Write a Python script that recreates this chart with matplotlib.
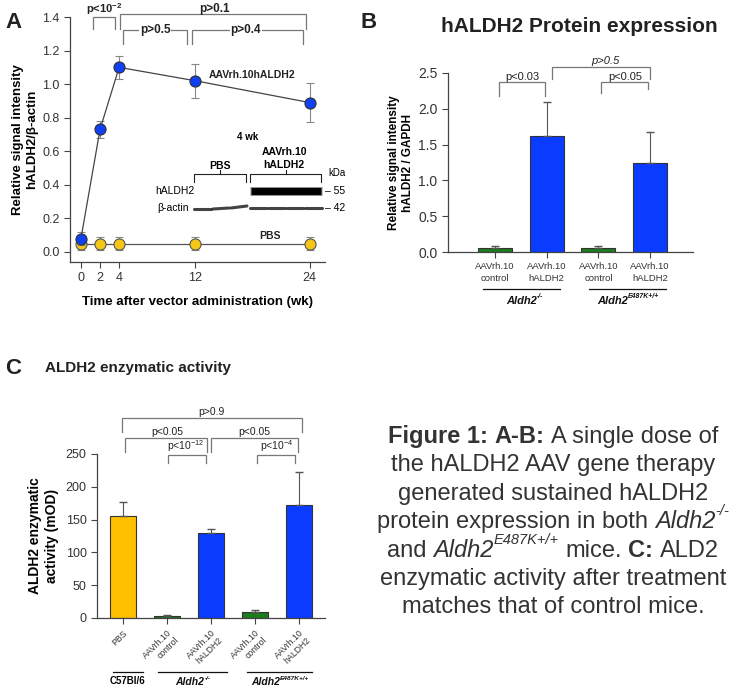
import matplotlib
matplotlib.use("Agg")
import matplotlib.pyplot as plt
import matplotlib.transforms as mtransforms

plt.rcParams['font.family'] = ['Liberation Sans', 'DejaVu Sans']
plt.rcParams['mathtext.fontset'] = 'custom'
plt.rcParams['mathtext.rm'] = 'Liberation Sans'
plt.rcParams['mathtext.bf'] = 'Liberation Sans:bold'

# ---- data ----
# panel A: time course
weeks = [0, 2, 4, 12, 24]
aav_mean = [0.08, 0.73, 1.10, 1.02, 0.89]
aav_err = [0.04, 0.05, 0.07, 0.10, 0.115]
pbs_mean = [0.05, 0.05, 0.05, 0.05, 0.05]
pbs_err = [0.04, 0.04, 0.04, 0.04, 0.04]

# panel B: protein expression
b_labels = ['AAVrh.10\ncontrol', 'AAVrh.10\nhALDH2', 'AAVrh.10\ncontrol', 'AAVrh.10\nhALDH2']
b_values = [0.05, 1.62, 0.05, 1.24]
b_err = [0.03, 0.48, 0.03, 0.43]

# panel C: enzymatic activity
c_labels = ['PBS', 'AAVrh.10\ncontrol', 'AAVrh.10\nhALDH2', 'AAVrh.10\ncontrol', 'AAVrh.10\nhALDH2']
c_values = [155, 3, 129, 9, 172]
c_err = [22, 2, 7, 3, 50]

BLUE = '#0a3cff'
GREEN = '#1c7d1c'
YELLOW = '#ffc000'
TICK = '#333333'

W, H = 751, 697
fig = plt.figure(figsize=(W / 100, H / 100), dpi=100)
renderer = fig.canvas.get_renderer()


def px_axes(x0, y0, x1, y1):
    return fig.add_axes([x0 / W, 1 - y1 / H, (x1 - x0) / W, (y1 - y0) / H])


def style_axes(ax, size):
    for s in ['top', 'right']:
        ax.spines[s].set_visible(False)
    for s in ['left', 'bottom']:
        ax.spines[s].set_color('#444444')
        ax.spines[s].set_linewidth(0.9)
    ax.tick_params(direction='out', length=4, width=0.8, color='#444444',
                   labelsize=size, labelcolor=TICK)


def bracket(ax, x0, x1, top, left_bot, right_bot, color='#777777', lw=0.9):
    ax.plot([x0, x0, x1, x1], [left_bot, top, top, right_bot], color=color,
            lw=lw, clip_on=False, solid_joinstyle='miter')


def text_width(s, size, **kw):
    t = fig.text(0, 0, s, fontsize=size, **kw)
    w = t.get_window_extent(renderer).width
    t.remove()
    return w


def rich_text(x, y, runs, trans, size, color='#222222', ha='center'):
    # runs: (text, weight, style, is_superscript, space_before)
    space = text_width('a a', size) - text_width('aa', size)
    widths = []
    for s, weight, style, sup, gap in runs:
        sz = size * 0.62 if sup else size
        widths.append(text_width(s, sz, fontweight=weight, fontstyle=style))
    total = sum(widths) + space * sum(1 for r in runs if r[4])
    off = -total / 2 if ha == 'center' else 0
    for (s, weight, style, sup, gap), w in zip(runs, widths):
        if gap:
            off += space
        sz = size * 0.62 if sup else size
        rise = size * 0.55 if sup else 0
        tr = mtransforms.offset_copy(trans, fig=fig, x=off, y=rise * 100 / 72, units='dots')
        fig.text(x, y, s, transform=tr, fontsize=sz, fontweight=weight, fontstyle=style,
                 ha='left', va='baseline', color=color)
        off += w


def aldh_label(ax, x, y, sup, size):
    tr = mtransforms.blended_transform_factory(ax.transData, ax.transAxes)
    rich_text(x, y, [('Aldh2', 'bold', 'italic', False, False),
                     (sup, 'bold', 'italic', True, False)], tr, size, color='#111111')


# ================= panel A =================
axA = px_axes(70, 17, 325, 262)
style_axes(axA, 9)
axA.errorbar(weeks, pbs_mean, yerr=pbs_err, color='#555555', lw=0.9, ecolor='#888888',
             elinewidth=0.8, capsize=3, marker='o', ms=8, mfc='#f5c518', mec='#555555',
             mew=0.8, zorder=3, clip_on=False)
axA.errorbar(weeks, aav_mean, yerr=aav_err, color='#444444', lw=0.9, ecolor='#888888',
             elinewidth=0.8, capsize=3, marker='o', ms=8, mfc='#1040f0', mec='#333333',
             mew=0.8, zorder=4, clip_on=False)
axA.set_xlim(-1.15, 25.6)
axA.set_ylim(-0.06, 1.4)
axA.set_xticks(weeks)
axA.set_yticks([0.0, 0.2, 0.4, 0.6, 0.8, 1.0, 1.2, 1.4])
axA.set_yticklabels(['0.0', '0.2', '0.4', '0.6', '0.8', '1.0', '1.2', '1.4'])
axA.set_xlabel('Time after vector administration (wk)', fontsize=9.5, fontweight='bold',
               labelpad=8)
axA.set_ylabel('Relative signal intensity\nhALDH2/β-actin', fontsize=9.5,
               fontweight='bold', labelpad=3)

bracket(axA, 1.3, 3.55, 1.40, 1.33, 1.33)
axA.text(2.4, 1.425, 'p<10$^{\\mathbf{-2}}$', ha='center', va='baseline', fontsize=8,
         fontweight='bold', color='#222222')
bracket(axA, 4.1, 23.6, 1.415, 1.33, 1.33)
axA.text(14.0, 1.428, 'p>0.1', ha='center', va='baseline', fontsize=8.5,
         fontweight='bold', color='#222222')
bracket(axA, 4.4, 11.1, 1.32, 1.24, 1.24)
axA.text(7.8, 1.32, 'p>0.5', ha='center', va='center', fontsize=8.5, fontweight='bold',
         color='#222222', bbox=dict(fc='white', ec='none', pad=0.5))
bracket(axA, 11.7, 23.3, 1.32, 1.24, 1.24)
axA.text(17.3, 1.32, 'p>0.4', ha='center', va='center', fontsize=8.5, fontweight='bold',
         color='#222222', bbox=dict(fc='white', ec='none', pad=0.5))
axA.text(13.4, 1.055, 'AAVrh.10hALDH2', ha='left', va='center', fontsize=7.5,
         fontweight='bold', color='#222222')
axA.text(19.8, 0.095, 'PBS', ha='center', va='center', fontsize=7.5,
         fontweight='bold', color='#222222')

# overlay axes in pixel coordinates for blot inset, panel letters and caption
ov = fig.add_axes([0, 0, 1, 1], zorder=10)
ov.set_xlim(0, W)
ov.set_ylim(H, 0)
ov.axis('off')
ov.patch.set_alpha(0)

# western blot inset (4 wk)
ov.text(248, 137, '4 wk', ha='center', va='center', fontsize=7, fontweight='bold')
ov.text(284, 152, 'AAVrh.10', ha='center', va='center', fontsize=7.5, fontweight='bold')
ov.text(284, 165, 'hALDH2', ha='center', va='center', fontsize=7.5, fontweight='bold')
ov.text(220, 166, 'PBS', ha='center', va='center', fontsize=7.5, fontweight='bold')
for x0, x1 in [(194, 246), (250, 321)]:
    ov.plot([x0, x0, x1, x1], [182, 174, 174, 182], color='#222222', lw=0.8)
    xm = (x0 + x1) / 2
    ov.plot([xm, xm], [174, 170], color='#222222', lw=0.8)
ov.text(337, 173, 'kDa', ha='center', va='center', fontsize=7)
ov.text(155, 191, 'hALDH2', ha='left', va='center', fontsize=7.5)
ov.text(157, 208, 'β-actin', ha='left', va='center', fontsize=7.5)
ov.plot([250, 322], [191, 191], color='#111111', lw=6.5, alpha=0.45, solid_capstyle='butt')
ov.plot([251, 321], [191, 191], color='#000000', lw=5, solid_capstyle='butt')
pbs_lanes = [(194, 211, 209, 209), (213, 229, 209, 208), (231, 247, 208, 206)]
aav_lanes = [(250, 267, 208, 208), (269, 285, 208, 208), (287, 303, 208, 208), (305, 322, 208, 208)]
for x0, x1, y0, y1 in pbs_lanes + aav_lanes:
    ov.plot([x0, x1], [y0, y1], color='#222222', lw=2.2, alpha=0.85, solid_capstyle='round')
ov.text(325, 191, '– 55', ha='left', va='center', fontsize=7.5)
ov.text(325, 208, '– 42', ha='left', va='center', fontsize=7.5)

# panel letters and titles
ov.text(5, 22, 'A', ha='left', va='center', fontsize=16, fontweight='bold', color='#222222')
ov.text(360, 23, 'B', ha='left', va='center', fontsize=16, fontweight='bold', color='#222222')
ov.text(5, 368, 'C', ha='left', va='center', fontsize=16, fontweight='bold', color='#222222')
ov.text(579, 26, 'hALDH2 Protein expression', ha='center', va='center', fontsize=15,
        fontweight='bold', color='#222222')
ov.text(45, 368, 'ALDH2 enzymatic activity', ha='left', va='center', fontsize=11,
        fontweight='bold', color='#222222')

# ================= panel B =================
axB = px_axes(448, 73, 693, 252)
style_axes(axB, 10)
xb = list(range(len(b_values)))
b_colors = [GREEN, BLUE, GREEN, BLUE]
axB.bar(xb, b_values, width=0.66, color=b_colors, edgecolor='#333333', linewidth=0.8,
        zorder=2)
axB.errorbar(xb, b_values, yerr=[[0] * len(b_err), b_err], fmt='none', ecolor='#555555',
             elinewidth=0.8, capsize=3, zorder=3)
axB.set_xlim(-0.91, 3.83)
axB.set_ylim(0, 2.5)
axB.set_yticks([0.0, 0.5, 1.0, 1.5, 2.0, 2.5])
axB.set_yticklabels(['0.0', '0.5', '1.0', '1.5', '2.0', '2.5'])
axB.set_xticks(xb)
axB.set_xticklabels(b_labels, fontsize=6.8, linespacing=1.3)
axB.set_ylabel('Relative signal intensity\nhALDH2 / GAPDH', fontsize=8.5,
               fontweight='bold', labelpad=3)

trB = mtransforms.blended_transform_factory(axB.transData, axB.transAxes)
for x0, x1 in [(-0.23, 1.26), (1.82, 3.31)]:
    axB.plot([x0, x1], [-0.207, -0.207], transform=trB, color='#111111', lw=0.9,
             clip_on=False)
aldh_label(axB, 0.58, -0.29, '-/-', 8)
aldh_label(axB, 2.57, -0.29, 'E487K+/+', 8)

bracket(axB, 0.07, 0.96, 2.37, 2.18, 2.18)
axB.text(0.52, 2.38, 'p<0.03', ha='center', va='bottom', fontsize=8, color='#222222')
bracket(axB, 1.10, 3.0, 2.58, 2.42, 2.42)
axB.text(2.13, 2.60, 'p>0.5', ha='center', va='bottom', fontsize=8, style='italic',
         color='#222222')
bracket(axB, 2.05, 2.96, 2.37, 2.22, 2.28)
axB.text(2.52, 2.38, 'p<0.05', ha='center', va='bottom', fontsize=8, color='#222222')

# ================= panel C =================
axC = px_axes(97, 454, 325, 618)
style_axes(axC, 9)
xc = list(range(len(c_values)))
c_colors = [YELLOW, GREEN, BLUE, GREEN, BLUE]
axC.bar(xc, c_values, width=0.61, color=c_colors, edgecolor='#333333', linewidth=0.8,
        zorder=2)
axC.errorbar(xc, c_values, yerr=[[0] * len(c_err), c_err], fmt='none', ecolor='#555555',
             elinewidth=0.8, capsize=3, zorder=3)
axC.set_xlim(-0.59, 4.59)
axC.set_ylim(0, 250)
axC.set_yticks([0, 50, 100, 150, 200, 250])
axC.set_xticks(xc)
axC.set_xticklabels(c_labels, fontsize=6.3, rotation=45, ha='right',
                    rotation_mode='anchor', linespacing=1.2)
axC.set_ylabel('ALDH2 enzymatic\nactivity (mOD)', fontsize=10, fontweight='bold',
               labelpad=5)

trC = mtransforms.blended_transform_factory(axC.transData, axC.transAxes)
for x0, x1 in [(-0.23, 0.45), (0.80, 2.36), (2.82, 4.30)]:
    axC.plot([x0, x1], [-0.33, -0.33], transform=trC, color='#111111', lw=0.9,
             clip_on=False)
axC.text(0.11, -0.385, 'C57Bl/6', transform=trC, ha='center', va='center', fontsize=7,
         fontweight='bold')
aldh_label(axC, 1.59, -0.41, '-/-', 7.5)
aldh_label(axC, 3.57, -0.41, 'E487K+/+', 7.5)

bracket(axC, -0.02, 4.07, 305, 284, 284)
axC.text(2.0, 307, 'p>0.9', ha='center', va='bottom', fontsize=7.5, color='#222222')
bracket(axC, 0.05, 1.91, 274, 253, 253)
axC.text(1.0, 276, 'p<0.05', ha='center', va='bottom', fontsize=7.5, color='#222222')
bracket(axC, 2.0, 3.98, 274, 253, 253)
axC.text(2.98, 276, 'p<0.05', ha='center', va='bottom', fontsize=7.5, color='#222222')
bracket(axC, 1.02, 1.89, 248, 236, 236)
axC.text(1.43, 250, 'p<10$^{-12}$', ha='center', va='bottom', fontsize=7.5,
         color='#222222')
bracket(axC, 3.05, 3.91, 248, 236, 236)
axC.text(3.5, 250, 'p<10$^{-4}$', ha='center', va='bottom', fontsize=7.5,
         color='#222222')

# ================= caption =================
N, B, I = 'normal', 'bold', 'italic'
caption = [
    [('Figure 1:', B, N, False, False), ('A-B:', B, N, False, True),
     ('A single dose of', N, N, False, True)],
    [('the hALDH2 AAV gene therapy', N, N, False, False)],
    [('generated sustained hALDH2', N, N, False, False)],
    [('protein expression in both', N, N, False, False), ('Aldh2', N, I, False, True),
     ('-/-', N, I, True, False)],
    [('and', N, N, False, False), ('Aldh2', N, I, False, True), ('E487K+/+', N, I, True, False),
     ('mice.', N, N, False, True), ('C:', B, N, False, True), ('ALD2', N, N, False, True)],
    [('enzymatic activity after treatment', N, N, False, False)],
    [('matches that of control mice.', N, N, False, False)],
]
for i, runs in enumerate(caption):
    rich_text(553, 443 + i * 28.4, runs, ov.transData, 17, color='#333333')

fig.savefig('out.png', dpi=100)
